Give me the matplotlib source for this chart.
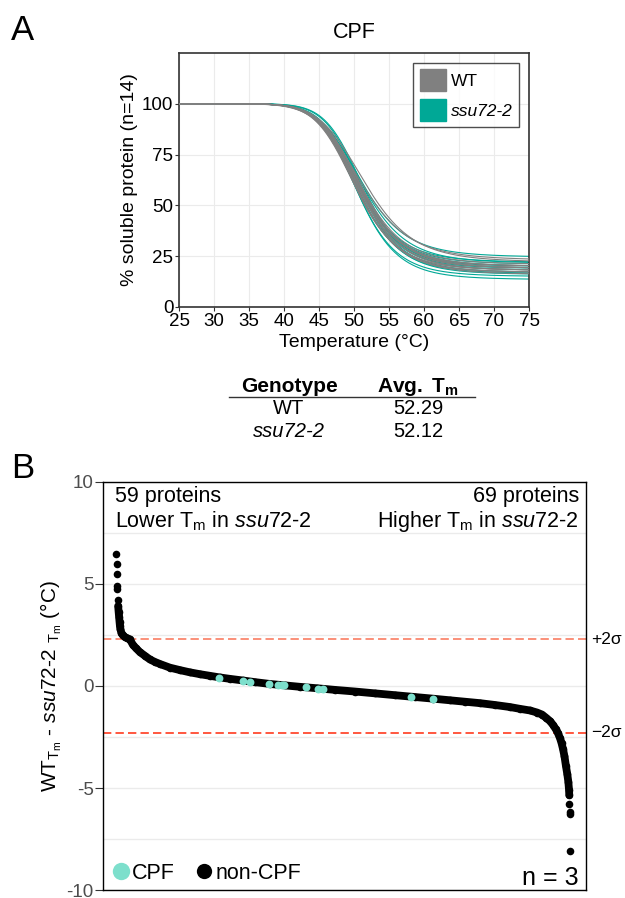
import matplotlib
matplotlib.use("Agg")
import matplotlib.pyplot as plt
import matplotlib.transforms as mtransforms
from matplotlib.lines import Line2D
from matplotlib.patches import Patch
import numpy as np

plt.rcParams["font.family"] = ["Liberation Sans", "DejaVu Sans"]
plt.rcParams["mathtext.fontset"] = "custom"
plt.rcParams["mathtext.rm"] = "Liberation Sans"
plt.rcParams["mathtext.it"] = "Liberation Sans:italic"
plt.rcParams["mathtext.bf"] = "Liberation Sans:bold"
plt.rcParams["axes.unicode_minus"] = False

# --- Panel A: fitted melting curves, f = (1-p)/(1+exp(-(a/T - b))) + p --------
wt_a = [850, 850, 850, 850, 850, 850, 850, 850, 870, 830, 860, 840, 780, 760]
wt_b = [16.93, 16.87, 16.83, 16.80, 16.77, 16.73, 16.70, 16.67, 17.23, 16.37,
        17.10, 16.50, 15.12, 14.90]
wt_plateau = [0.18, 0.17, 0.19, 0.20, 0.18, 0.16, 0.21, 0.19, 0.17, 0.20,
              0.18, 0.19, 0.22, 0.23]
mut_a = [900, 900, 880, 950, 940, 820, 850, 850, 860, 840, 870, 850, 900, 830]
mut_b = [17.82, 17.86, 17.39, 18.55, 18.40, 16.08, 16.80, 16.77, 16.93, 16.57,
         17.12, 16.83, 17.68, 16.24]
mut_plateau = [0.135, 0.15, 0.165, 0.20, 0.19, 0.245, 0.21, 0.18, 0.19, 0.20,
               0.17, 0.22, 0.16, 0.215]

genotypes = ["WT", "ssu72-2"]
avg_tm = ["52.29", "52.12"]

# --- Panel B: ranked WT Tm - ssu72-2 Tm --------------------------------------
hi_rank = [0, 1, 2, 3, 4, 6]
hi_delta = [6.49, 6.00, 5.48, 4.90, 4.75, 4.24]
curve_rank = [8, 10, 12, 14, 16, 18, 22, 29, 38, 49, 60, 73, 86, 104, 126, 148,
              170, 192, 236, 280, 324, 368, 412, 456, 501, 558, 611, 677, 743,
              809, 884, 963, 1051, 1139, 1228, 1316, 1395, 1470, 1536, 1602,
              1668, 1734, 1779, 1823, 1854, 1876, 1893, 1911, 1924, 1937, 1946,
              1955, 1962, 1968, 1975, 1981, 1987, 1992, 1995, 1996]
curve_delta = [3.92, 3.65, 3.40, 3.15, 2.92, 2.78, 2.62, 2.48, 2.40, 2.34, 2.28,
               2.02, 1.86, 1.66, 1.48, 1.30, 1.18, 1.08, 0.90, 0.78, 0.67, 0.58,
               0.50, 0.42, 0.35, 0.27, 0.19, 0.10, 0.03, -0.04, -0.11, -0.19,
               -0.27, -0.36, -0.45, -0.54, -0.62, -0.70, -0.77, -0.84, -0.93,
               -1.03, -1.12, -1.20, -1.30, -1.40, -1.55, -1.72, -1.90, -2.12,
               -2.31, -2.55, -2.80, -3.07, -3.45, -3.90, -4.30, -4.70, -5.10,
               -5.35]
lo_rank = [1997, 1998, 1999, 2000]
lo_delta = [-5.76, -6.16, -6.28, -8.11]
cpf_rank = [453, 559, 588, 673, 713, 728, 738, 834, 890, 909, 1297, 1397]
cpf_delta = [0.40, 0.24, 0.21, 0.10, 0.05, 0.05, 0.05, -0.06, -0.13, -0.13,
             -0.52, -0.63]
two_sigma = 2.3

GREY = "#808080"
TEAL = "#00a896"
CPF_COL = "#7ddfcc"

fig = plt.figure(figsize=(6.25, 8.98), dpi=100)

# ---------------------------------------------------------------- panel A
axA = fig.add_axes([179 / 625, 1 - 307 / 898, 350 / 625, 254 / 898])
temps = np.linspace(25, 75, 400)
for a, b, p in zip(mut_a, mut_b, mut_plateau):
    axA.plot(temps, 100 * ((1 - p) / (1 + np.exp(-(a / temps - b))) + p),
             color=TEAL, lw=0.8, zorder=2)
for a, b, p in zip(wt_a, wt_b, wt_plateau):
    axA.plot(temps, 100 * ((1 - p) / (1 + np.exp(-(a / temps - b))) + p),
             color=GREY, lw=0.8, zorder=3)
axA.set_xlim(25, 75)
axA.set_ylim(0, 125)
axA.set_xticks(np.arange(25, 76, 5))
axA.set_yticks(np.arange(0, 101, 25))
axA.grid(color="#ebebeb", lw=0.8)
axA.set_axisbelow(True)
for s in axA.spines.values():
    s.set_color("#333333")
    s.set_linewidth(1.2)
axA.tick_params(length=3, color="#333333", labelsize=13.5, pad=1)
axA.set_title("CPF", fontsize=15.5, pad=11)
axA.set_xlabel("Temperature (°C)", fontsize=14, labelpad=3)
axA.set_ylabel("% soluble protein (n=14)", fontsize=14, labelpad=3)
leg = axA.legend([Patch(color=GREY), Patch(color=TEAL)], genotypes,
                 loc="upper right", fontsize=12.5, frameon=True, fancybox=False,
                 edgecolor="#222222", handlelength=1.5, handleheight=1.5,
                 handletextpad=0.3, borderpad=0.4, labelspacing=0.5,
                 borderaxespad=0.55)
leg.get_frame().set_linewidth(1.0)
leg.get_texts()[1].set_style("italic")

# table under panel A
col1, col2 = 289 / 625, 418 / 625
fig.text(col1, 1 - 387 / 898, "Genotype", ha="center", va="center",
         fontsize=15, fontweight="bold")
fig.text(col2, 1 - 387 / 898, r"$\mathbf{Avg.\ T_m}$", ha="center", va="center",
         fontsize=15)
fig.add_artist(Line2D([229 / 625, 475 / 625], [1 - 397 / 898, 1 - 397 / 898],
                      color="#333333", lw=1))
for i, (g, tm) in enumerate(zip(genotypes, avg_tm)):
    y = 1 - (409 + 22.5 * i) / 898
    fig.text(col1, y, g, ha="center", va="center", fontsize=14.5,
             style="italic" if i == 1 else "normal")
    fig.text(col2, y, tm, ha="center", va="center", fontsize=14.5)

# ---------------------------------------------------------------- panel B
axB = fig.add_axes([103.4 / 625, 1 - 890 / 898, 482.2 / 625, 408 / 898])
axB.set_xlim(-57, 2068)
axB.set_ylim(-10, 10)
axB.set_yticks(np.arange(-10, 11, 5))
axB.set_yticks(np.arange(-7.5, 10, 2.5), minor=True)
axB.set_xticks([])
axB.grid(axis="y", which="both", color="#ebebeb", lw=1)
axB.set_axisbelow(True)
axB.tick_params(axis="y", which="minor", length=0)
axB.tick_params(axis="y", which="major", length=5.5, color="#333333",
                labelsize=13.5, labelcolor="#4d4d4d", pad=1.5)
for s in axB.spines.values():
    s.set_color("black")
    s.set_linewidth(1)

axB.axhline(two_sigma, color="#fa7d62", lw=1.2, ls=(0, (5, 2.5)), zorder=2)
axB.axhline(-two_sigma, color="#ff3b1f", lw=1.2, ls=(0, (5, 2.5)), zorder=2)
trans = mtransforms.blended_transform_factory(axB.transAxes, axB.transData)
axB.text(1.012, two_sigma, "+2σ", transform=trans, va="center", fontsize=12.5)
axB.text(1.012, -two_sigma, "−2σ", transform=trans, va="center", fontsize=12.5)

axB.plot(curve_rank, curve_delta, color="black", lw=5.6, solid_capstyle="round",
         solid_joinstyle="round", zorder=3)
axB.scatter(hi_rank + curve_rank + lo_rank, hi_delta + curve_delta + lo_delta,
            s=30, color="black", lw=0, zorder=3)
axB.scatter(cpf_rank, cpf_delta, s=32, color=CPF_COL, lw=0, zorder=4)

axB.set_ylabel(r"WT$_{\mathrm{T_m}}$ - $\mathit{ssu72}$-$\mathit{2}$ ${}_{\mathrm{T_m}}$ (°C)",
               fontsize=15, labelpad=2)

axB.text(0.024, 0.965, "59 proteins", transform=axB.transAxes, ha="left",
         va="center", fontsize=15.5)
axB.text(0.024, 0.903, r"Lower T$_\mathrm{m}$ in $\mathit{ssu72}$-$\mathit{2}$",
         transform=axB.transAxes, ha="left", va="center", fontsize=15.5)
axB.text(0.986, 0.965, "69 proteins", transform=axB.transAxes, ha="right",
         va="center", fontsize=15.5)
axB.text(0.986, 0.903, r"Higher T$_\mathrm{m}$ in $\mathit{ssu72}$-$\mathit{2}$",
         transform=axB.transAxes, ha="right", va="center", fontsize=15.5)
axB.text(0.986, 0.03, "n = 3", transform=axB.transAxes, ha="right",
         va="center", fontsize=18)

handles = [Line2D([], [], ls="", marker="o", ms=12.5, color=CPF_COL, mew=0),
           Line2D([], [], ls="", marker="o", ms=11, color="black", mew=0)]
axB.legend(handles, ["CPF", "non-CPF"], loc="lower left", ncol=2,
           frameon=False, fontsize=15.5, handlelength=1.0, handletextpad=0.0,
           columnspacing=0.9, borderaxespad=0.1, borderpad=0.2)

fig.text(0.018, 0.984, "A", fontsize=25, va="top", ha="left")
fig.text(0.018, 1 - 452 / 898, "B", fontsize=25, va="top", ha="left")

fig.savefig("out.png", dpi=100)
